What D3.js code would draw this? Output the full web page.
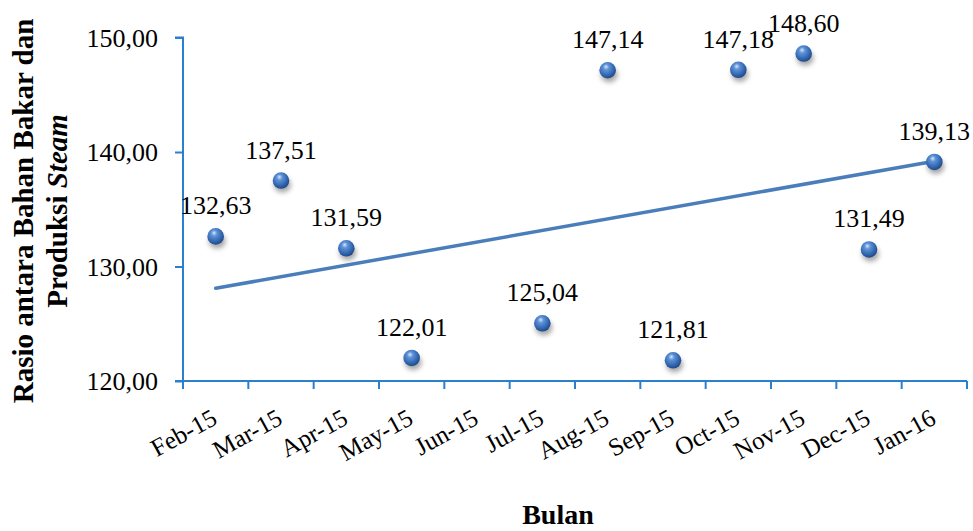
<!DOCTYPE html>
<html>
<head>
<meta charset="utf-8">
<script src="https://cdn.jsdelivr.net/npm/d3@7"></script>
<style>
  html, body { margin: 0; padding: 0; background: #fff; }
  svg { display: block; font-family: "Liberation Serif", "Times New Roman", serif; }
</style>
</head>
<body>
<svg id="chart" width="973" height="531"></svg>
<script>
// Monthly ratio of fuel to steam production
const months = ["Feb-15","Mar-15","Apr-15","May-15","Jun-15","Jul-15","Aug-15","Sep-15","Oct-15","Nov-15","Dec-15","Jan-16"];
const ratio = [132.63, 137.51, 131.59, 122.01, null, 125.04, 147.14, 121.81, 147.18, 148.60, 131.49, 139.13];
// Linear trend line, start and end values
const trendMonths = ["Feb-15", "Jan-16"];
const trendValues = [128.1, 139.2];
const yTicks = [120, 130, 140, 150];

const svg = d3.select("#chart");
const plotLeft = 183, plotRight = 967, plotTop = 37.5, plotBottom = 381;
const axisColor = "#2a7fcf";
const serif = "Liberation Serif, Times New Roman, serif";

const x = d3.scaleBand().domain(months).range([plotLeft, plotRight]).padding(0);
const y = d3.scaleLinear().domain([120, 150]).range([plotBottom, plotTop]);
const cx = m => x(m) + x.bandwidth() / 2;
const fmt = v => d3.format(".2f")(v).replace(".", ",");

// Sphere gradient and soft shadow for markers
const defs = svg.append("defs");
const grad = defs.append("radialGradient").attr("id", "ball")
  .attr("cx", "42%").attr("cy", "38%").attr("r", "62%").attr("fx", "40%").attr("fy", "28%");
grad.append("stop").attr("offset", "0%").attr("stop-color", "#d6e7fc");
grad.append("stop").attr("offset", "28%").attr("stop-color", "#5f93d8");
grad.append("stop").attr("offset", "75%").attr("stop-color", "#3064ae");
grad.append("stop").attr("offset", "100%").attr("stop-color", "#1f4a88");
const shadow = defs.append("filter").attr("id", "shadow").attr("x", "-60%").attr("y", "-60%").attr("width", "220%").attr("height", "220%");
shadow.append("feGaussianBlur").attr("stdDeviation", 2.4);

// Y axis
const yAxis = d3.axisLeft(y).tickValues(yTicks).tickSize(8).tickFormat(fmt);
const gy = svg.append("g").attr("transform", `translate(${plotLeft},0)`).call(yAxis);
gy.select(".domain").attr("stroke", axisColor).attr("stroke-width", 2).attr("d", `M-8,${plotTop}H0V${plotBottom}H-8`);
gy.selectAll(".tick line").attr("stroke", axisColor).attr("stroke-width", 2);
gy.selectAll(".tick text").attr("x", -25).attr("dy", "0.33em").attr("font-size", 26).attr("fill", "#000")
  .attr("font-family", serif);

// X axis with ticks between months
const gx = svg.append("g").attr("transform", `translate(0,${plotBottom})`);
gx.append("line").attr("x1", plotLeft - 8).attr("x2", plotRight).attr("y1", 0).attr("y2", 0)
  .attr("stroke", axisColor).attr("stroke-width", 2);
const edges = months.map(m => x(m)).concat([plotRight]);
gx.selectAll("line.tk").data(edges).join("line").attr("class", "tk")
  .attr("x1", d => d).attr("x2", d => d).attr("y1", 0).attr("y2", 8)
  .attr("stroke", axisColor).attr("stroke-width", 2);
gx.selectAll("text").data(months).join("text")
  .attr("transform", d => `translate(${cx(d) + 3},${42}) rotate(-29)`)
  .attr("text-anchor", "end")
  .attr("font-size", 25).attr("fill", "#000").text(d => d);

// Trend line
svg.append("line")
  .attr("x1", cx(trendMonths[0])).attr("y1", y(trendValues[0]))
  .attr("x2", cx(trendMonths[1])).attr("y2", y(trendValues[1]))
  .attr("stroke", "#4a7ebb").attr("stroke-width", 3.5).attr("stroke-linecap", "round");

// Markers
const pts = months.map((m, i) => ({ m, v: ratio[i] })).filter(d => d.v != null);
svg.append("g").selectAll("ellipse").data(pts).join("ellipse")
  .attr("cx", d => cx(d.m) + 1.5).attr("cy", d => y(d.v) + 4.5)
  .attr("rx", 8.5).attr("ry", 7.5).attr("fill", "rgba(0,0,0,0.35)").attr("filter", "url(#shadow)");
svg.append("g").selectAll("circle").data(pts).join("circle")
  .attr("cx", d => cx(d.m)).attr("cy", d => y(d.v)).attr("r", 8.3)
  .attr("fill", "url(#ball)");

// Value labels
svg.append("g").selectAll("text").data(pts).join("text")
  .attr("x", d => cx(d.m)).attr("y", d => y(d.v) - 22)
  .attr("text-anchor", "middle").attr("font-size", 26).attr("fill", "#000")
  .text(d => fmt(d.v));

// Axis titles
const yt = svg.append("text").attr("transform", `translate(0,211) rotate(-90)`)
  .attr("text-anchor", "middle").attr("font-weight", "bold").attr("font-size", 29).attr("fill", "#000");
yt.append("tspan").attr("x", 0).attr("y", 33).text("Rasio antara Bahan Bakar dan");
const l2 = yt.append("tspan").attr("x", 0).attr("y", 67);
l2.append("tspan").text("Produksi ");
l2.append("tspan").attr("font-style", "italic").text("Steam");

svg.append("text").attr("x", 558).attr("y", 524).attr("text-anchor", "middle")
  .attr("font-weight", "bold").attr("font-size", 28).attr("fill", "#000").text("Bulan");
</script>
</body>
</html>
